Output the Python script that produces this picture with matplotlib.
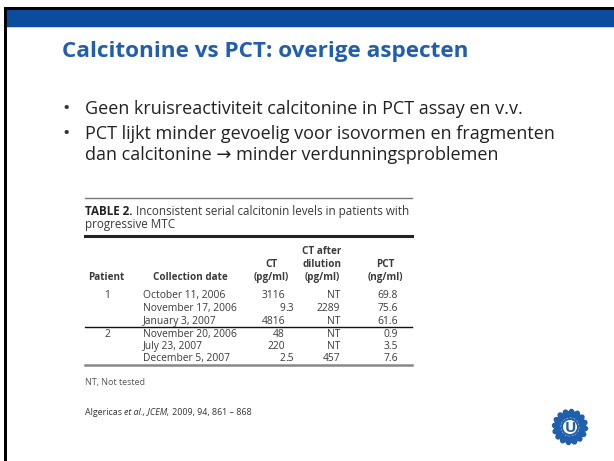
import numpy as np
import matplotlib
matplotlib.use("Agg")
import matplotlib.pyplot as plt

# ---- content ----
title = "Calcitonine vs PCT: overige aspecten"
bullets = [
    ["Geen kruisreactiviteit calcitonine in PCT assay en v.v."],
    ["PCT lijkt minder gevoelig voor isovormen en fragmenten",
     "dan calcitonine \u2192 minder verdunningsproblemen"],
]
table_label = "TABLE 2."
table_caption = ["Inconsistent serial calcitonin levels in patients with",
                 "progressive MTC"]
headers = [["", "", "Patient"],
           ["", "", "Collection date"],
           ["", "CT", "(pg/ml)"],
           ["CT after", "dilution", "(pg/ml)"],
           ["", "PCT", "(ng/ml)"]]
patients = ["1", "", "", "2", "", ""]
dates = ["October 11, 2006", "November 17, 2006", "January 3, 2007",
         "November 20, 2006", "July 23, 2007", "December 5, 2007"]
ct = ["3116", "9.3", "4816", "48", "220", "2.5"]
ct_dilution = ["NT", "2289", "NT", "NT", "NT", "457"]
pct = ["69.8", "75.6", "61.6", "0.9", "3.5", "7.6"]
footnote = "NT, Not tested"
citation = [("Algericas ", "normal"), ("et al., JCEM,", "italic"),
            (" 2009, 94, 861 \u2013 868", "normal")]

# ---- figure in pixel coordinates ----
W, H = 614, 461
fig = plt.figure(figsize=(W / 100, H / 100), dpi=100)
ax = fig.add_axes([0, 0, 1, 1])
ax.set_xlim(0, W)
ax.set_ylim(H, 0)
ax.axis("off")
R = fig.canvas.get_renderer()


def px_width(t):
    return t.get_window_extent(renderer=R).width * (W / fig.bbox.width)


# frame and header bar
ax.add_patch(plt.Rectangle((4, 7), W, 3.5, color="black", lw=0))
ax.add_patch(plt.Rectangle((4, 7), 3, H, color="black", lw=0))
ax.add_patch(plt.Rectangle((7, 10.5), W, 16.5, color="#0b4c9e", lw=0))
ax.add_patch(plt.Rectangle((7, 27), W, 1.5, color="#b5d8ea", lw=0))

TF = ["Open Sans", "DejaVu Sans"]
ax.text(62, 57, title, fontsize=16.2, fontweight="bold", color="#1f5fad",
        family=TF, va="baseline", ha="left")

bbase = [114, 139]
for y0, lines in zip(bbase, bullets):
    ax.text(62, y0, "\u2022", fontsize=14, color="#333333", family=TF, va="baseline")
    for k, line in enumerate(lines):
        ax.text(85, y0 + 21 * k, line, fontsize=13.0, color="#222222",
                family=TF, va="baseline")

# ---- table ----
TCOL = "#3a3a3a"
TFS = 7.4
x0, x1 = 85, 412
ax.plot([x0, x1], [198, 198], color="#777777", lw=1.0)
t = ax.text(x0, 211, table_label, fontsize=8.35, fontweight="bold", color="#222222",
            family=TF, va="center")
ax.text(x0 + px_width(t) + 3, 211, table_caption[0], fontsize=8.35, color=TCOL,
        family=TF, va="center")
ax.text(x0, 224, table_caption[1], fontsize=8.35, color=TCOL, family=TF, va="center")
ax.plot([x0, x1], [236, 236], color="#222222", lw=2.2)

hx = [106, 190, 271, 322, 385]
hy = [251, 264, 277]
for hxi, hcol in zip(hx, headers):
    for yy, h in zip(hy, hcol):
        ax.text(hxi, yy, h, fontsize=7.1, fontweight="bold", color=TCOL, family=TF,
                ha="center", va="center")

ry = [295, 308, 321, 334, 346, 358]
for i, y in enumerate(ry):
    ax.text(107, y, patients[i], fontsize=TFS, color=TCOL, family=TF, ha="center", va="center")
    ax.text(143, y, dates[i], fontsize=TFS, color=TCOL, family=TF, ha="left", va="center")
    ip, _, fp = ct[i].partition(".")
    ax.text(285, y, ip, fontsize=TFS, color=TCOL, family=TF, ha="right", va="center")
    if fp:
        ax.text(285, y, "." + fp, fontsize=TFS, color=TCOL, family=TF, ha="left", va="center")
    ax.text(340, y, ct_dilution[i], fontsize=TFS, color=TCOL, family=TF, ha="right", va="center")
    ax.text(398, y, pct[i], fontsize=TFS, color=TCOL, family=TF, ha="right", va="center")

ax.plot([x0, x1], [327, 327], color="#111111", lw=1.0)
ax.plot([x0, x1], [365, 365], color="#888888", lw=1.8)
ax.text(x0, 382, footnote, fontsize=6.4, color="#555555", family=TF, va="center")

cx = x0
for s, st in citation:
    t = ax.text(cx, 412, s, fontsize=6.4, color="#333333", family=TF, va="center", style=st)
    cx += px_width(t)

# logo
th = np.linspace(0, 2 * np.pi, 800)
rr = 13.5 + 2.6 * np.sin(16 * th)
lx, ly = 570, 427
ax.plot(lx + rr * np.cos(th), ly + rr * np.sin(th), color="#1f5fad", lw=3.2)
ax.add_patch(plt.Circle((lx, ly), 8.0, facecolor="white", edgecolor="#1f5fad", lw=1.4))
ax.text(lx, ly + 0.5, "U", fontsize=11, fontweight="bold", color="#1f5fad", family=TF,
        ha="center", va="center")

fig.savefig("out.png", dpi=100, facecolor="white")
